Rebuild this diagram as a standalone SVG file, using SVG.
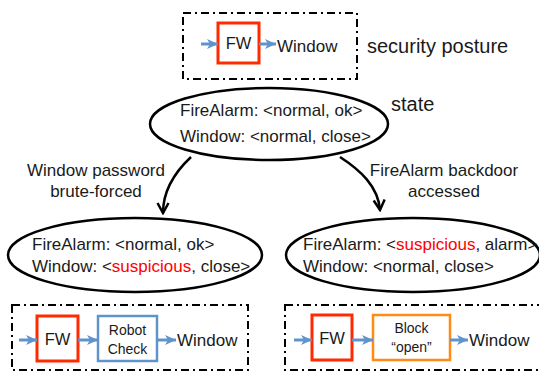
<svg xmlns="http://www.w3.org/2000/svg" width="539" height="373" viewBox="0 0 539 373">
<style>
text{font-family:"Liberation Sans",Arial,sans-serif;fill:#1a1a1a}
.t17{font-size:17px}
.t20{font-size:20px}
.t16{font-size:16.5px}
.t13{font-size:14px}
.mid{text-anchor:middle}
.red{fill:#ff0000}
.frame{fill:none;stroke:#000;stroke-width:2;stroke-dasharray:8 4 2 4}
.fw{fill:#fff;stroke:#ff2a00;stroke-width:3}
.robot{fill:#fff;stroke:#5f93cb;stroke-width:2.5}
.block{fill:#fff;stroke:#ff8a14;stroke-width:2.5}
.state{fill:#fff;stroke:#000;stroke-width:2.5}
.flow{stroke:#5f93cb;stroke-width:3;fill:none;marker-end:url(#blue)}
.trans{stroke:#000;stroke-width:2.5;fill:none;marker-end:url(#black)}
</style>
<defs>
<marker id="blue" markerUnits="userSpaceOnUse" markerWidth="12" markerHeight="12" viewBox="0 0 12 12" refX="11" refY="6" orient="auto">
<path d="M0,1 L11,6 L0,11 L3,6 Z" fill="#5f93cb"/>
</marker>
<marker id="black" markerUnits="userSpaceOnUse" markerWidth="14" markerHeight="14" viewBox="0 0 14 14" refX="12" refY="7" orient="auto">
<path d="M2,1.5 L12,7 L2,12.5" fill="none" stroke="#000" stroke-width="2.5"/>
</marker>
</defs>

<g id="posture-top">
<rect class="frame" x="183" y="13" width="174" height="66"/>
<rect class="fw" x="218" y="23" width="41" height="40"/>
<text class="t16 mid" x="238.5" y="49">FW</text>
<text class="t17" x="277" y="52">Window</text>
</g>
<text class="t20" x="367" y="53">security posture</text>

<g id="state-top">
<ellipse class="state" cx="269" cy="124" rx="119" ry="36"/>
<text class="t17" x="180" y="116">FireAlarm: &lt;normal, ok&gt;</text>
<text class="t17" x="180" y="142">Window: &lt;normal, close&gt;</text>
</g>
<text class="t20" x="391" y="111">state</text>

<g id="state-left">
<ellipse class="state" cx="135" cy="255" rx="127" ry="37"/>
<text class="t17" x="32" y="250">FireAlarm: &lt;normal, ok&gt;</text>
<text class="t17" x="32" y="272">Window: &lt;<tspan class="red">suspicious</tspan>, close&gt;</text>
</g>

<g id="state-right">
<ellipse class="state" cx="413" cy="255" rx="127" ry="37"/>
<text class="t17" x="303" y="250">FireAlarm: &lt;<tspan class="red">suspicious</tspan>, alarm&gt;</text>
<text class="t17" x="303" y="272">Window: &lt;normal, close&gt;</text>
</g>

<g id="posture-left">
<rect class="frame" x="12" y="305" width="236" height="65"/>
<rect class="fw" x="37" y="316" width="41" height="45"/>
<text class="t16 mid" x="57.5" y="345">FW</text>
<rect class="robot" x="98" y="316" width="59" height="45"/>
<text class="t13 mid" x="127.5" y="335">Robot</text>
<text class="t13 mid" x="127.5" y="354">Check</text>
<text class="t17" x="177" y="346">Window</text>
</g>

<g id="posture-right">
<rect class="frame" x="285" y="305" width="262" height="65"/>
<rect class="fw" x="312" y="315" width="40" height="45"/>
<text class="t16 mid" x="332" y="344">FW</text>
<rect class="block" x="373" y="315" width="77" height="45"/>
<text class="t13 mid" x="411.5" y="333">Block</text>
<text class="t13 mid" x="411.5" y="352">“open”</text>
<text class="t17" x="469" y="346">Window</text>
</g>

<g id="connectors">
<line class="flow" x1="201" y1="44" x2="218" y2="44"/>
<line class="flow" x1="259" y1="44" x2="276" y2="44"/>
<line class="flow" x1="19" y1="340" x2="37" y2="340"/>
<line class="flow" x1="78" y1="340" x2="98" y2="340"/>
<line class="flow" x1="157" y1="340" x2="176" y2="340"/>
<line class="flow" x1="294" y1="340" x2="312" y2="340"/>
<line class="flow" x1="352" y1="340" x2="373" y2="340"/>
<line class="flow" x1="450" y1="340" x2="468" y2="340"/>
<path class="trans" d="M191,157 C175,172 163,190 163,213"/>
<path class="trans" d="M340,157 C360,170 378,186 380,210"/>
<text class="t17 mid" x="96" y="176">Window password</text>
<text class="t17 mid" x="96" y="197">brute-forced</text>
<text class="t17 mid" x="444" y="176">FireAlarm backdoor</text>
<text class="t17 mid" x="444" y="197">accessed</text>
</g>
</svg>
